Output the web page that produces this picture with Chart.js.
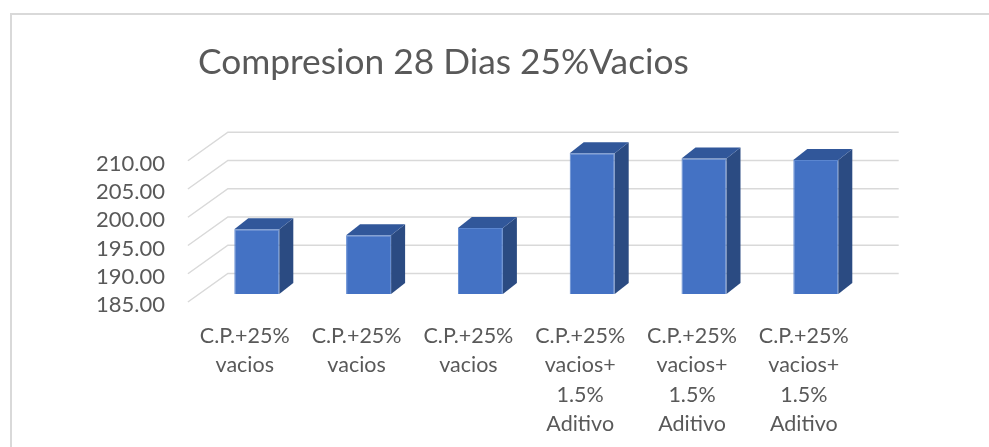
<!DOCTYPE html>
<html>
<head>
<meta charset="utf-8">
<script src="https://cdn.jsdelivr.net/npm/chart.js@4.4.1/dist/chart.umd.min.js"></script>
<style>
    html, body { margin: 0; padding: 0; background: #fff; overflow: hidden; }
    #wrap { position: relative; width: 989px; height: 447px; }
    #frame { position: absolute; left: 10px; top: 13px; width: 1200px; height: 1000px; border: 2px solid #d9d9d9; }
    canvas { position: absolute; left: 0; top: 0; }
</style>
</head>
<body>
<div id="wrap">
    <div id="frame"></div>
    <canvas id="chart" width="989" height="447"></canvas>
</div>
<script>
const chartTitle = 'Compresion 28 Dias 25%Vacios';

const categories = [
    ['C.P.+25%', 'vacios'],
    ['C.P.+25%', 'vacios'],
    ['C.P.+25%', 'vacios'],
    ['C.P.+25%', 'vacios+', '1.5%', 'Aditivo'],
    ['C.P.+25%', 'vacios+', '1.5%', 'Aditivo'],
    ['C.P.+25%', 'vacios+', '1.5%', 'Aditivo']
];

const resistencia = [196.45, 195.4, 196.7, 209.9, 209.0, 208.7];

const yTicks = [185, 190, 195, 200, 205, 210];

const FONT = "Lato, 'Open Sans', sans-serif";
const TEXT = '#595959';
const GRID = '#d9d9d9';

// fake 3D: walls and bar depth
const DEPTH_X = 14;
const DEPTH_Y = -11;
const FRONT_DY = 8;
const BACK_DY = -20.5;

const cube3d = {
    id: 'cube3d',
    beforeDatasetsDraw(chart) {
        const { ctx, chartArea, scales } = chart;
        const x0 = chartArea.left - 13;
        const x1 = chartArea.left + 27;
        const x2 = chartArea.right + 27;
        ctx.save();
        ctx.strokeStyle = GRID;
        ctx.lineWidth = 1.5;
        yTicks.forEach(v => {
            const p = scales.y.getPixelForValue(v);
            ctx.beginPath();
            ctx.moveTo(x0, p + FRONT_DY);
            ctx.lineTo(x1, p + BACK_DY);
            ctx.lineTo(x2, p + BACK_DY);
            ctx.stroke();
        });
        ctx.restore();
    },
    afterDatasetsDraw(chart) {
        const { ctx, chartArea } = chart;
        const meta = chart.getDatasetMeta(0);
        ctx.save();
        meta.data.forEach(bar => {
            const l = bar.x - bar.width / 2;
            const r = bar.x + bar.width / 2;
            const t = bar.y;
            const b = Math.min(bar.base, chartArea.bottom);
            // side
            ctx.fillStyle = '#2b4b82';
            ctx.beginPath();
            ctx.moveTo(r, t);
            ctx.lineTo(r + DEPTH_X, t + DEPTH_Y);
            ctx.lineTo(r + DEPTH_X, b + DEPTH_Y);
            ctx.lineTo(r, b);
            ctx.closePath();
            ctx.fill();
            // top
            ctx.fillStyle = '#31579a';
            ctx.beginPath();
            ctx.moveTo(l, t);
            ctx.lineTo(l + DEPTH_X, t + DEPTH_Y);
            ctx.lineTo(r + DEPTH_X, t + DEPTH_Y);
            ctx.lineTo(r, t);
            ctx.closePath();
            ctx.fill();
        });
        ctx.restore();
    }
};

new Chart(document.getElementById('chart'), {
    type: 'bar',
    data: {
        labels: categories,
        datasets: [{
            data: resistencia,
            backgroundColor: '#4472c4',
            borderColor: '#5b86d0',
            borderWidth: 1,
            barPercentage: 1,
            categoryPercentage: 0.4025
        }]
    },
    options: {
        responsive: false,
        animation: false,
        layout: {
            padding: { left: 15, right: 117.3, top: 0, bottom: 0 }
        },
        plugins: {
            legend: { display: false },
            tooltip: { enabled: false },
            title: {
                display: true,
                text: chartTitle,
                color: TEXT,
                font: { family: FONT, size: 35.3, weight: 'normal', lineHeight: 1.2 },
                padding: { top: 41.5, bottom: 68.9 }
            }
        },
        scales: {
            x: {
                grid: { display: false, drawTicks: false },
                border: { display: false },
                ticks: {
                    color: TEXT,
                    font: { family: FONT, size: 21.5, lineHeight: 1.37 },
                    padding: 27,
                    labelOffset: -12,
                    maxRotation: 0,
                    autoSkip: false
                },
                afterFit(scale) { scale.height = 153; }
            },
            y: {
                min: 185,
                max: 210,
                grid: { display: false, drawTicks: false },
                border: { display: false },
                afterBuildTicks(scale) {
                    scale.ticks = yTicks.map(v => ({ value: v }));
                },
                ticks: {
                    color: TEXT,
                    font: { family: FONT, size: 22 },
                    padding: 36,
                    labelOffset: 11,
                    autoSkip: false,
                    callback: v => Number(v).toFixed(2)
                },
                afterFit(scale) { scale.width = 185.9; }
            }
        }
    },
    plugins: [cube3d]
});
</script>
</body>
</html>
